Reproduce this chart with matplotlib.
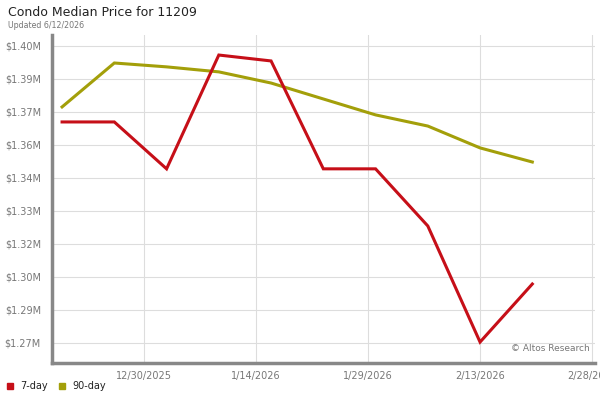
import matplotlib
matplotlib.use('Agg')
import matplotlib.pyplot as plt
import matplotlib.dates as mdates
import numpy as np
import datetime as dt

# data
startDate = dt.date(2025, 12, 19)
dates = [startDate + dt.timedelta(days=7 * i) for i in range(10)]
sevenDay = [1.3686, 1.3686, 1.3480, 1.3980, 1.3954, 1.3480, 1.3480, 1.3229, 1.2719, 1.2974]
ninetyDay = [1.3752, 1.3945, 1.3928, 1.3906, 1.3857, 1.3787, 1.3717, 1.3668, 1.3572, 1.3510]

yTicks = [1.2715 + 0.0145 * i for i in range(10)]
yTickLabels = ['$1.27M', '$1.29M', '$1.30M', '$1.32M', '$1.33M',
               '$1.34M', '$1.36M', '$1.37M', '$1.39M', '$1.40M']
xTicks = [dt.date(2025, 12, 30), dt.date(2026, 1, 14), dt.date(2026, 1, 29),
          dt.date(2026, 2, 13), dt.date(2026, 2, 28)]
xTickLabels = ['12/30/2025', '1/14/2026', '1/29/2026', '2/13/2026', '2/28/2026']

redColor = '#c60f18'
oliveColor = '#a39f0a'
gray = '#777777'

plt.rcParams['font.family'] = 'DejaVu Sans'

fig = plt.figure(figsize=(6, 4), dpi=100)
panel = fig.add_axes([52 / 600, 37 / 400, 543 / 600, 328 / 400])

panel.plot(dates, ninetyDay, color=oliveColor, linewidth=2.2, zorder=3,
           solid_joinstyle='miter')
panel.plot(dates, sevenDay, color=redColor, linewidth=2.2, zorder=4,
           solid_joinstyle='miter')

panel.set_ylim(1.2627, 1.4068)
panel.set_xlim(mdates.date2num(dt.date(2025, 12, 19)) - 1.35,
               mdates.date2num(dt.date(2026, 2, 28)) + 0.4)

panel.set_yticks(yTicks)
panel.set_yticklabels(yTickLabels)
panel.set_xticks([mdates.date2num(d) for d in xTicks])
panel.set_xticklabels(xTickLabels)

panel.grid(True, color='#dddddd', linewidth=0.8)
panel.set_axisbelow(True)

for side in ['top', 'right']:
    panel.spines[side].set_visible(False)
for side in ['left', 'bottom']:
    panel.spines[side].set_color('#888888')
    panel.spines[side].set_linewidth(2.5)

panel.tick_params(axis='both', length=0, labelsize=7, labelcolor=gray, pad=6)
panel.tick_params(axis='y', pad=8)

panel.text(0.99, 0.03, '© Altos Research', transform=panel.transAxes,
           ha='right', va='bottom', fontsize=6.5, color=gray)

fig.text(8 / 600, 1 - 13 / 400, 'Condo Median Price for 11209', fontsize=9,
         color='#222222', va='center', ha='left')
fig.text(8 / 600, 1 - 25 / 400, 'Updated 6/12/2026', fontsize=5.7,
         color=gray, va='center', ha='left')

# legend
legY = 1 - 386 / 400
fig.patches.append(plt.Rectangle((7 / 600, legY - 3 / 400), 6 / 600, 6 / 400,
                                 transform=fig.transFigure, color=redColor))
fig.text(20 / 600, legY, '7-day', fontsize=7, va='center', color='#222222')
fig.patches.append(plt.Rectangle((59 / 600, legY - 3 / 400), 6 / 600, 6 / 400,
                                 transform=fig.transFigure, color=oliveColor))
fig.text(72 / 600, legY, '90-day', fontsize=7, va='center', color='#222222')

fig.savefig('out.png', dpi=100)
